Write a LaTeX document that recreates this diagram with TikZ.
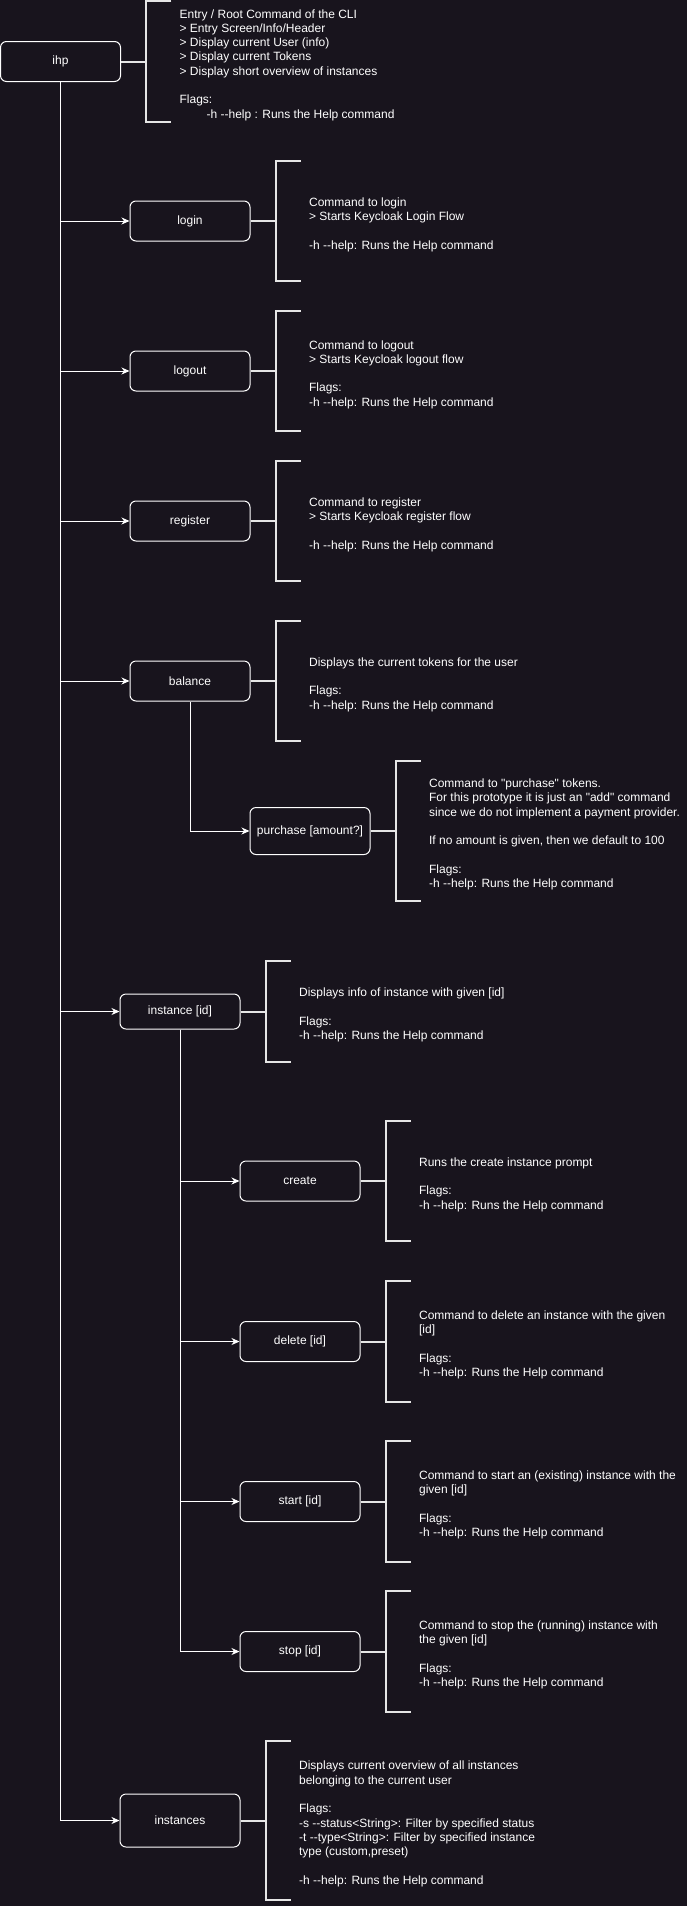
\documentclass[tikz,border=0pt]{standalone}
\usepackage{fontspec}
\setmainfont{Liberation Sans}[Ligatures=TeXOff]
\usetikzlibrary{arrows.meta}

\definecolor{bg}{HTML}{18141D}
\definecolor{ink}{HTML}{FFFFFF}
\definecolor{brk}{HTML}{E6E6E6}

% a bracket with a stub from the command box, followed by its description
\newcommand\notebrace[3]{%
  \node[brace, minimum height=#2pt, anchor=west] (#1-b) at ([xshift=25pt]#1.east) {};
  \draw[stroke] (#1.east) -- (#1-b.west);
  \draw[stroke] (#1-b.north east) -- (#1-b.north west) -- (#1-b.south west) -- (#1-b.south east);
  \node[desc] (#1-t) at ([xshift=8pt,yshift=-3.5pt]#1-b.east) {#3};
}

\begin{document}
\begin{tikzpicture}[x=1pt,y=-1pt,
  cmd/.style={draw=ink, fill=bg, rounded corners=6pt, line width=1pt,
    minimum width=120pt, minimum height=40pt, inner sep=0pt, text=ink,
    font=\fontsize{12}{14.4}\selectfont},
  brace/.style={minimum width=25pt, inner sep=0pt, draw=none},
  desc/.style={anchor=west, align=left, inner sep=0pt, text=ink,
    font=\fontsize{12}{14.3}\selectfont},
  link/.style={draw=ink, line width=1pt,
    -{Stealth[length=8pt,width=7pt,inset=2.5pt]}},
  stroke/.style={draw=brk, line width=2pt},
]
\fill[bg] (0,0) rectangle (687,1906);
\useasboundingbox (0,0) rectangle (687,1906);

% command boxes
\node[cmd] (ihp) at (60.5,61.5) {ihp};
\node[cmd] (login) at (190,221) {login};
\node[cmd] (logout) at (190,371) {logout};
\node[cmd] (register) at (190,521) {register};
\node[cmd] (balance) at (190,681) {balance};
\node[cmd, minimum height=47pt] (purchase) at (310,831) {purchase [amount?]};
\node[cmd, minimum height=35pt] (instance) at (180,1011.5) {instance [id]};
\node[cmd] (create) at (300,1181) {create};
\node[cmd] (delete) at (300,1341.5) {delete [id]};
\node[cmd] (start) at (300,1501.5) {start [id]};
\node[cmd] (stop) at (300,1651.5) {stop [id]};
\node[cmd, minimum height=53pt] (instances) at (180,1820.5) {instances};

% command tree
\foreach \c in {login,logout,register,balance,instance,instances}
  \draw[link] (ihp.south) |- (\c.west);
\draw[link] (balance.south) |- (purchase.west);
\foreach \c in {create,delete,start,stop}
  \draw[link] (instance.south) |- (\c.west);

% descriptions
\notebrace{ihp}{120}{Entry / Root Command of the CLI\\
> Entry Screen/Info/Header\\
> Display current User (info)\\
> Display current Tokens\\
> Display short overview of instances\\[14.3pt]
Flags:\\
\hspace*{27pt}-h --help : Runs the Help command}

\notebrace{login}{120}{Command to login\\
> Starts Keycloak Login Flow\\[14.3pt]
-h --help: Runs the Help command}

\notebrace{logout}{120}{Command to logout\\
> Starts Keycloak logout flow\\[14.3pt]
Flags:\\
-h --help: Runs the Help command}

\notebrace{register}{120}{Command to register\\
> Starts Keycloak register flow\\[14.3pt]
-h --help: Runs the Help command}

\notebrace{balance}{120}{Displays the current tokens for the user\\[14.3pt]
Flags:\\
-h --help: Runs the Help command}

\notebrace{purchase}{140}{Command to "purchase" tokens.\\
For this prototype it is just an "add" command\\
since we do not implement a payment provider.\\[14.3pt]
If no amount is given, then we default to 100\\[14.3pt]
Flags:\\
-h --help: Runs the Help command}

\notebrace{instance}{101}{Displays info of instance with given [id]\\[14.3pt]
Flags:\\
-h --help: Runs the Help command}

\notebrace{create}{120}{Runs the create instance prompt\\[14.3pt]
Flags:\\
-h --help: Runs the Help command}

\notebrace{delete}{120}{Command to delete an instance with the given\\
{}[id]\\[14.3pt]
Flags:\\
-h --help: Runs the Help command}

\notebrace{start}{120}{Command to start an (existing) instance with the\\
given [id]\\[14.3pt]
Flags:\\
-h --help: Runs the Help command}

\notebrace{stop}{120}{Command to stop the (running) instance with\\
the given [id]\\[14.3pt]
Flags:\\
-h --help: Runs the Help command}

\notebrace{instances}{159}{Displays current overview of all instances\\
belonging to the current user\\[14.3pt]
Flags:\\
-s --status<String>: Filter by specified status\\
-t --type<String>: Filter by specified instance\\
type (custom,preset)\\[14.3pt]
-h --help: Runs the Help command}

\end{tikzpicture}
\end{document}
